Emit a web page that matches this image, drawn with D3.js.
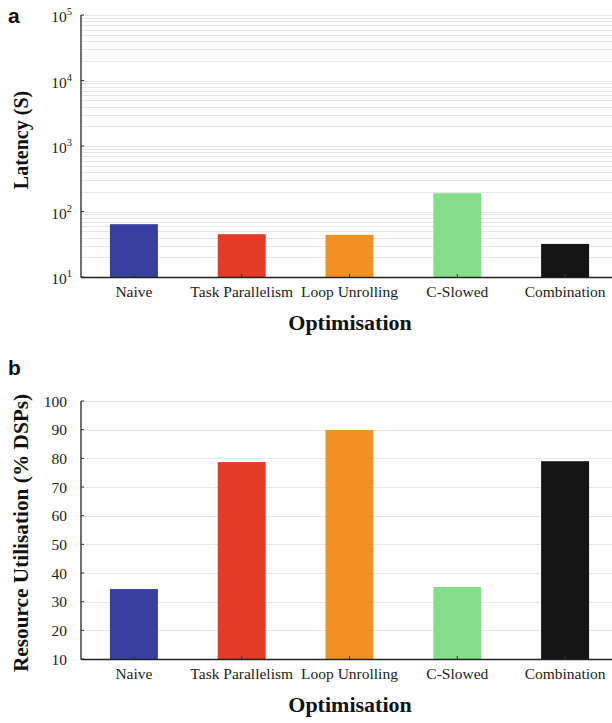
<!DOCTYPE html>
<html><head><meta charset="utf-8">
<script src="https://cdn.jsdelivr.net/npm/d3@7"></script>
<style>body{margin:0;background:#fff}svg{display:block}</style>
</head><body>
<svg id="c" width="612" height="723"></svg>
<script>
const categories = ["Naive", "Task Parallelism", "Loop Unrolling", "C-Slowed", "Combination"];
const colors = ["#37409f", "#e33b25", "#f39022", "#84dd88", "#151515"];
const latency = [64, 45, 44, 190, 32];
const utilisation = [34.4, 78.7, 89.9, 35.1, 79.0];
const latencyTickExps = [1, 2, 3, 4, 5];
const utilTicks = [10, 20, 30, 40, 50, 60, 70, 80, 90, 100];

const svg = d3.select("#c");
const serif = "'Liberation Serif','Times New Roman',serif";
const sans = "'Liberation Sans',Arial,sans-serif";
const left = 81, right = 612;
const x = d3.scaleBand().domain(categories).range([80, 619])
  .paddingInner(0.555).paddingOuter(0.2775);

function panel(g, y, top, bottom, gridVals, label, labelY, ylabel, ylabelSize, ylabelCenter, values) {
  g.selectAll("line.grid").data(gridVals).join("line").attr("class", "grid")
    .attr("x1", left).attr("x2", right)
    .attr("y1", d => Math.round(y(d)) + 0.5).attr("y2", d => Math.round(y(d)) + 0.5)
    .attr("stroke", "#e6e6e6").attr("stroke-width", 1);
  g.selectAll("rect.bar").data(values).join("rect").attr("class", "bar")
    .attr("x", (d, i) => x(categories[i]))
    .attr("width", x.bandwidth())
    .attr("y", d => y(d))
    .attr("height", d => bottom - y(d))
    .attr("fill", (d, i) => colors[i]);
  const xa = g.append("g").attr("transform", `translate(0,${bottom})`)
    .call(d3.axisBottom(x).tickSizeInner(-3).tickSizeOuter(0).tickPadding(9));
  xa.select(".domain").attr("d", `M${left},0.5H${right}`).attr("stroke", "#222").attr("stroke-width", 1.3);
  xa.selectAll(".tick line").attr("stroke", "#333");
  xa.selectAll(".tick text").attr("font-family", serif).attr("font-size", 15.5).attr("fill", "#222");
  g.append("line").attr("x1", left).attr("x2", left).attr("y1", top).attr("y2", bottom + 0.5)
    .attr("stroke", "#222").attr("stroke-width", 1.3);
  g.append("text").attr("x", 350).attr("y", bottom + 53).attr("text-anchor", "middle")
    .attr("font-family", serif).attr("font-weight", "bold").attr("font-size", 22).attr("fill", "#111")
    .text("Optimisation");
  g.append("text").attr("transform", `translate(28,${ylabelCenter}) rotate(-90)`)
    .attr("text-anchor", "middle")
    .attr("font-family", serif).attr("font-weight", "bold").attr("font-size", ylabelSize).attr("fill", "#111")
    .text(ylabel);
  g.append("text").attr("x", 8).attr("y", labelY).attr("font-family", sans).attr("font-weight", "bold")
    .attr("font-size", 21).attr("fill", "#111").text(label);
}

// Panel a
const ya = d3.scaleLog().domain([10, 1e5]).range([277, 15]);
const gridA = [];
latencyTickExps.forEach(e => {
  if (e < 5) { for (let m = 1; m <= 9; m++) gridA.push(m * Math.pow(10, e)); }
  else gridA.push(Math.pow(10, e));
});
const ga = svg.append("g");
panel(ga, ya, 15, 277, gridA.filter(d => d > 10), "a", 23, "Latency (S)", 20, 140, latency);
ga.selectAll("line.ytick").data(latencyTickExps).join("line").attr("class", "ytick")
  .attr("x1", left).attr("x2", left + 3)
  .attr("y1", d => ya(Math.pow(10, d))).attr("y2", d => ya(Math.pow(10, d)))
  .attr("stroke", "#333");
const la = ga.selectAll("text.ylab").data(latencyTickExps).join("text").attr("class", "ylab")
  .attr("x", 72).attr("y", d => ya(Math.pow(10, d)) + 7)
  .attr("text-anchor", "end").attr("font-family", serif).attr("fill", "#222");
la.append("tspan").attr("font-size", 15.5).text("10");
la.append("tspan").attr("font-size", 10.5).attr("dy", -7).text(d => d);

// Panel b
const yb = d3.scaleLinear().domain([10, 100]).range([659, 401]);
const gb = svg.append("g");
panel(gb, yb, 401, 659, utilTicks.filter(d => d > 10), "b", 375, "Resource Utilisation (% DSPs)", 21.3, 533, utilisation);
gb.selectAll("line.ytick").data(utilTicks).join("line").attr("class", "ytick")
  .attr("x1", left).attr("x2", left + 3)
  .attr("y1", d => yb(d)).attr("y2", d => yb(d))
  .attr("stroke", "#333");
gb.selectAll("text.ylab").data(utilTicks).join("text").attr("class", "ylab")
  .attr("x", 67).attr("y", d => yb(d) + 5.5)
  .attr("text-anchor", "end").attr("font-family", serif).attr("font-size", 15.5).attr("fill", "#222")
  .text(d => d);
</script>
</body></html>
